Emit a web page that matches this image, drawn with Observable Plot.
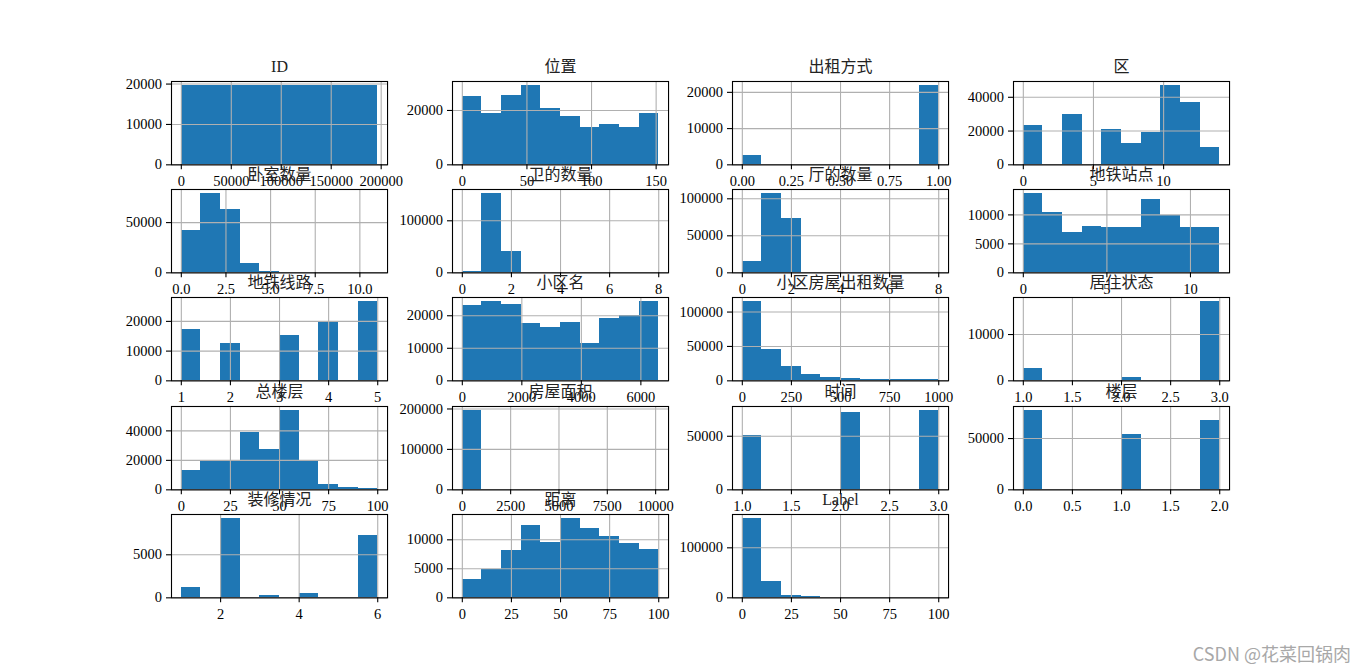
<!DOCTYPE html>
<html><head><meta charset="utf-8">
<script src="https://cdn.jsdelivr.net/npm/d3@7"></script>
<script src="https://cdn.jsdelivr.net/npm/@observablehq/plot@0.6"></script>
<style>
html,body{margin:0;padding:0;background:#fff;}
#fig{position:relative;width:1366px;height:671px;overflow:hidden;background:#fff;}
.cell{position:absolute;}
.cell svg{overflow:visible;display:block;}
#wm{position:absolute;right:15px;top:640px;font-family:"Noto Sans CJK SC",sans-serif;font-size:18px;color:#a8a8a8;white-space:nowrap;}
</style></head><body><div id="fig"><div id="wm">CSDN @花菜回锅肉</div></div>
<script>
// ---- data (10 equal-width bins per column) ----
const titles = ["ID","位置","出租方式","区","卧室数量","卫的数量","厅的数量","地铁站点","地铁线路","小区名","小区房屋出租数量","居住状态","总楼层","房屋面积","时间","楼层","装修情况","距离","Label"];
const binMin = [0,0,0,0,0,0,0,0,1,0,0,1,0,0,1,0,1,0,0];
const binMax = [196539,152,1,14,11,8,8,11.75,5,6600,1000,3,100,10160,3,2,6,100,100];
const counts = [
  [19654,19654,19654,19654,19654,19654,19654,19654,19654,19653],
  [25200,19000,25600,29200,20800,17600,13600,15000,13600,19000],
  [2500,0,0,0,0,0,0,0,0,21900],
  [23000,0,30000,0,20700,12500,19100,47000,37100,10100],
  [42000,79000,63000,9300,1100,60,20,5,2,1],
  [2000,152500,40300,1500,150,40,10,4,2,1],
  [15400,107200,73300,500,80,20,5,3,2,1],
  [13700,10400,7000,7980,7800,7800,12660,9940,7800,7800],
  [17300,0,12700,0,0,15300,0,19800,0,26700],
  [23270,24390,23570,17760,16430,18060,11330,19290,20100,24390],
  [115400,46150,20190,8650,4330,2880,1900,1500,1500,1500],
  [2570,0,0,0,0,640,0,0,0,17140],
  [12960,19660,19660,39100,27040,53850,19660,3580,1560,890],
  [196300,200,20,5,3,2,1,0,0,1],
  [50900,0,0,0,0,72200,0,0,0,74070],
  [77400,0,0,0,0,54200,0,0,0,67700],
  [1200,0,9220,0,270,0,500,0,0,7250],
  [3160,4940,8160,12470,9540,13680,11950,10570,9370,8330],
  [158700,32600,4600,1800,500,150,50,20,10,9]
];
const xTicks = [
  [0,50000,100000,150000,200000],[0,50,100,150],[0,0.25,0.5,0.75,1],[0,5,10],
  [0,2.5,5,7.5,10],[0,2,4,6,8],[0,2,4,6,8],[0,5,10],
  [1,2,3,4,5],[0,2000,4000,6000],[0,250,500,750,1000],[1,1.5,2,2.5,3],
  [0,25,50,75,100],[0,2500,5000,7500,10000],[1,1.5,2,2.5,3],[0,0.5,1,1.5,2],
  [2,4,6],[0,25,50,75,100],[0,25,50,75,100]
];
const xTickLabels = [
  ["0","50000","100000","150000","200000"],["0","50","100","150"],["0.00","0.25","0.50","0.75","1.00"],["0","5","10"],
  ["0.0","2.5","5.0","7.5","10.0"],["0","2","4","6","8"],["0","2","4","6","8"],["0","5","10"],
  ["1","2","3","4","5"],["0","2000","4000","6000"],["0","250","500","750","1000"],["1.0","1.5","2.0","2.5","3.0"],
  ["0","25","50","75","100"],["0","2500","5000","7500","10000"],["1.0","1.5","2.0","2.5","3.0"],["0.0","0.5","1.0","1.5","2.0"],
  ["2","4","6"],["0","25","50","75","100"],["0","25","50","75","100"]
];
const yTicks = [
  [0,10000,20000],[0,20000],[0,10000,20000],[0,20000,40000],
  [0,50000],[0,100000],[0,50000,100000],[0,5000,10000],
  [0,10000,20000],[0,10000,20000],[0,50000,100000],[0,10000],
  [0,20000,40000],[0,100000,200000],[0,50000],[0,50000],
  [0,5000],[0,5000,10000],[0,100000]
];

// ---- layout (matplotlib subplot grid) ----
const FW=1366, FH=671, L=0.125, R=0.9, B=0.11, T=0.88, WS=0.3, HS=0.3, NC=4, NR=5;
const axW=(R-L)*FW/(NC+(NC-1)*WS), axH=(T-B)*FH/(NR+(NR-1)*HS);
const mL=80, mR=30, mT=40, mB=40;
const FONT="'Liberation Serif','Noto Sans CJK SC',serif";
const BLUE="#1f77b4", GRID="#b0b0b0";
const TICKFS=14.5;
const fig=document.getElementById("fig");

titles.forEach((title,i)=>{
  const r=Math.floor(i/NC), c=i%NC;
  const x0=L*FW+c*axW*(1+WS), y0=(1-T)*FH+r*axH*(1+HS);
  const lo=binMin[i], hi=binMax[i], span=hi-lo, w=span/10;
  const bins=counts[i].map((n,k)=>({x1:lo+k*w,x2:lo+(k+1)*w,n})).filter(d=>d.n>0);
  const ymax=d3.max(counts[i])*1.05;
  const xl=new Map(xTicks[i].map((v,k)=>[v,xTickLabels[i][k]]));
  const svg=Plot.plot({
    width:axW+mL+mR, height:axH+mT+mB,
    marginLeft:mL, marginRight:mR, marginTop:mT, marginBottom:mB,
    style:{background:"transparent",overflow:"visible",fontFamily:FONT,fontSize:TICKFS+"px",color:"black"},
    x:{type:"linear",domain:[lo-0.05*span,hi+0.05*span],nice:false},
    y:{type:"linear",domain:[0,ymax],nice:false},
    marks:[
      Plot.rect(bins,{x1:"x1",x2:"x2",y1:0,y2:"n",fill:BLUE,inset:0,shapeRendering:"crispEdges"}),
      Plot.gridX(xTicks[i],{stroke:GRID,strokeOpacity:1,strokeWidth:1.1}),
      Plot.gridY(yTicks[i],{stroke:GRID,strokeOpacity:1,strokeWidth:1.1}),
      Plot.frame({stroke:"black",strokeWidth:1.1}),
      Plot.axisX(xTicks[i],{tickSize:5,tickPadding:5.5,tickFormat:d=>xl.get(d),label:null,fontSize:TICKFS,strokeWidth:1.1}),
      Plot.axisY(yTicks[i],{tickSize:5,tickPadding:4.5,tickFormat:d=>String(d),label:null,fontSize:TICKFS,strokeWidth:1.1}),
      Plot.text([title],{text:d=>d,frameAnchor:"top",lineAnchor:"bottom",dy:-9,fontSize:16,fill:"#222"})
    ]
  });
  const div=document.createElement("div");
  div.className="cell";
  div.style.left=(x0-mL)+"px"; div.style.top=(y0-mT)+"px";
  div.style.width=(axW+mL+mR)+"px";
  div.appendChild(svg);
  fig.appendChild(div);
});
</script></body></html>
